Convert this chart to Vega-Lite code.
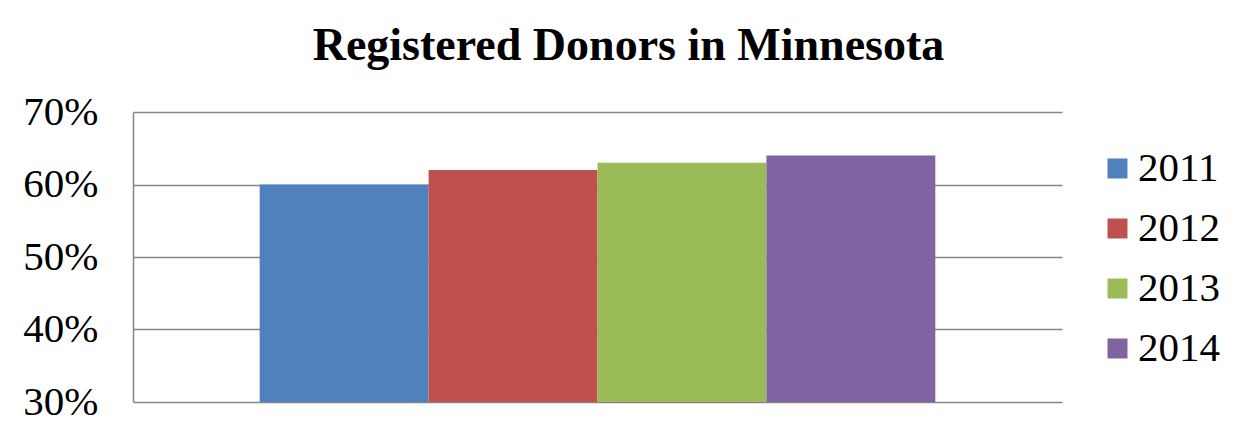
{
  "$schema": "https://vega.github.io/schema/vega-lite/v6.json",
  "width": 929,
  "height": 290,
  "autosize": "none",
  "padding": {"left": 133, "top": 112, "right": 176, "bottom": 33},
  "background": "white",
  "title": {
    "text": "Registered Donors in Minnesota",
    "font": "Liberation Serif",
    "fontSize": 46,
    "fontWeight": "bold",
    "color": "black",
    "anchor": "middle",
    "dx": 31,
    "offset": 21
  },
  "data": {
    "values": [
      {"year": "2011", "share": 0.60},
      {"year": "2012", "share": 0.62},
      {"year": "2013", "share": 0.63},
      {"year": "2014", "share": 0.64}
    ]
  },
  "mark": {"type": "bar", "clip": true},
  "encoding": {
    "x": {
      "field": "year",
      "type": "nominal",
      "scale": {"paddingInner": 0, "paddingOuter": 0.75},
      "axis": null
    },
    "y": {
      "field": "share",
      "type": "quantitative",
      "scale": {"domain": [0.3, 0.7], "zero": false},
      "axis": {
        "values": [0.3, 0.4, 0.5, 0.6, 0.7],
        "format": ".0%",
        "ticks": false,
        "labelPadding": 35,
        "labelFont": "Liberation Serif",
        "labelFontSize": 41,
        "labelColor": "black",
        "domainColor": "#868686",
        "domainWidth": 1.5,
        "gridColor": "#868686",
        "gridWidth": 1.5,
        "title": null
      }
    },
    "y2": {"datum": 0.3},
    "color": {
      "field": "year",
      "type": "nominal",
      "scale": {"range": ["#4F81BD", "#C0504D", "#9BBB59", "#8064A2"]},
      "legend": {
        "title": null,
        "orient": "none",
        "legendX": 964,
        "legendY": 36,
        "symbolType": "square",
        "symbolSize": 400,
        "symbolStrokeWidth": 0,
        "labelFont": "Liberation Serif",
        "labelFontSize": 41,
        "labelColor": "black",
        "labelOffset": 0,
        "rowPadding": 18
      }
    }
  },
  "config": {"view": {"stroke": null}}
}
